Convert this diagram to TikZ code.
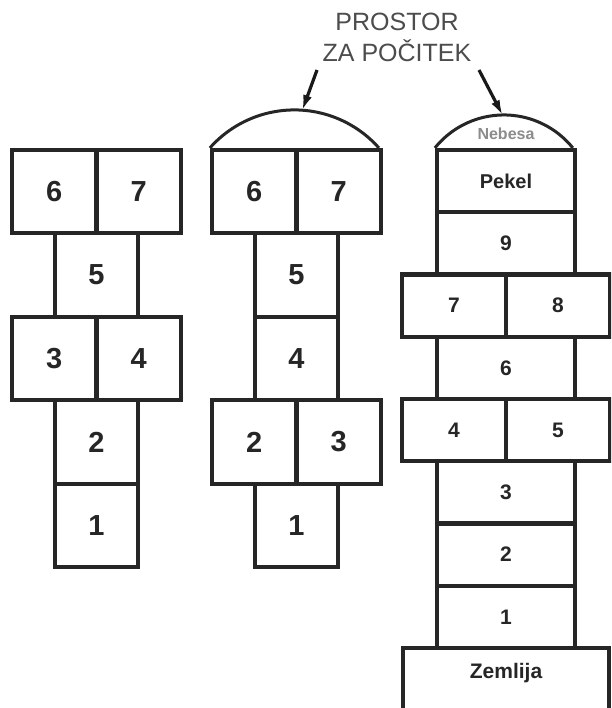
\documentclass[tikz,border=0pt]{standalone}
\usepackage{fontspec}
\setmainfont{Liberation Sans}
\usetikzlibrary{arrows.meta}
\begin{document}
\begin{tikzpicture}[x=1pt,y=-1pt,line join=miter,
  lw/.style={draw=black!85, line width=4.2pt},
  arcline/.style={draw=black!85, line width=3pt},
  cell/.style={lw, inner sep=0pt, text=black!85},
  bigcell/.style={cell, font=\fontsize{29}{29}\selectfont\bfseries, minimum height=83.4pt},
  bnarrow/.style={bigcell, minimum width=83pt},
  bhalf/.style={bigcell, minimum width=84.5pt},
  smallcell/.style={cell, font=\fontsize{21}{21}\selectfont\bfseries, minimum height=62.25pt},
  snarrow/.style={smallcell, minimum width=138pt},
  shalf/.style={smallcell, minimum width=104pt},
  pointer/.style={draw=black!90, line width=3.2pt, -{Latex[length=16pt,width=9pt]}},
  titletext/.style={font=\fontsize{25}{31}\selectfont, text=black!70, align=center}]
\useasboundingbox (0,0) rectangle (611,708);
\fill[white] (0,0) rectangle (611,708);
\clip (0,0) rectangle (611,708);
% left hopscotch
\node[bhalf] (L6) at (54.25,191.7) {6};
\node[bhalf] (L7) at (138.75,191.7) {7};
\node[bnarrow] (L5) at (96.5,275.1) {5};
\node[bhalf] (L3) at (54.25,358.5) {3};
\node[bhalf] (L4) at (138.75,358.5) {4};
\node[bnarrow] (L2) at (96.5,441.9) {2};
\node[bnarrow] (L1) at (96.5,525.3) {1};
% middle hopscotch
\node[bhalf] (M6) at (254.25,191.7) {6};
\node[bhalf] (M7) at (338.75,191.7) {7};
\node[bnarrow] (M5) at (296.5,275.1) {5};
\node[bnarrow] (M4) at (296.5,358.5) {4};
\node[bhalf] (M2) at (254.25,441.9) {2};
\node[bhalf] (M3) at (338.75,441.9) {3};
\node[bnarrow] (M1) at (296.5,525.3) {1};
\draw[arcline] (M6.north west) arc[start angle=221.6, end angle=318.4, radius=113];
% right hopscotch
\node[snarrow, font=\fontsize{20}{20}\selectfont\bfseries] (RP) at (506,181.125) {Pekel};
\node[snarrow] (R9) at (506,243.375) {9};
\node[shalf] (R7) at (454,305.625) {7};
\node[shalf] (R8) at (558,305.625) {8};
\node[snarrow] (R6) at (506,367.875) {6};
\node[shalf] (R4) at (454,430.125) {4};
\node[shalf] (R5) at (558,430.125) {5};
\node[snarrow] (R3) at (506,492.375) {3};
\node[snarrow] (R2) at (506,554.625) {2};
\node[snarrow] (R1) at (506,616.875) {1};
\node[font=\fontsize{21}{21}\selectfont\bfseries, text=black!85, minimum width=206pt, minimum height=50pt, inner sep=0pt] (RZ) at (506,673) {Zemlija};
\draw[lw] ([yshift=-30pt]RZ.south west) -- (RZ.north west) -- (RZ.north east) -- ([yshift=-30pt]RZ.south east);
\draw[arcline] (RP.north west) arc[start angle=218.9, end angle=321.1, radius=88.6];
\node[font=\fontsize{16}{16}\selectfont\bfseries, text=black!45] (RN) at (506,134) {Nebesa};
% title and pointers
\node[titletext] (T) at (397,37) {PROSTOR\\ZA POČITEK};
\coordinate (la) at (317,70);
\coordinate (lb) at (302,111);
\coordinate (ra) at (479,70);
\coordinate (rb) at (503,116);
\draw[pointer] (la) -- (lb);
\draw[pointer] (ra) -- (rb);
\end{tikzpicture}
\end{document}
